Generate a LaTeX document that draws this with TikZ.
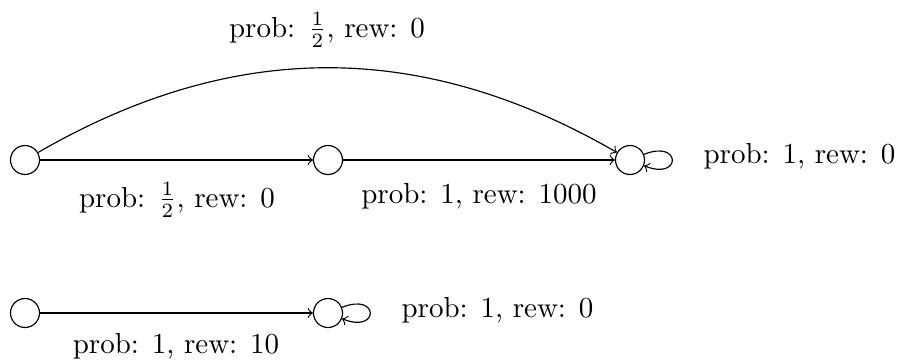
\documentclass[tikz,border=0pt]{standalone}
\begin{document}
\begin{tikzpicture}[x=0.345pt,y=-0.345pt,
  state/.style={circle,draw,minimum size=10pt,inner sep=0pt},
  lbl/.style={anchor=base,inner sep=0pt},
  trans/.style={->},
  selfloop/.style={loop,out=22,in=-22,min distance=14pt,looseness=8}]
\useasboundingbox (0,0) rectangle (899,363);
\node[state] (a) at (25,160) {};
\node[state] (b) at (328,160) {};
\node[state] (c) at (630,160) {};
\node[state] (d) at (25,313) {};
\node[state] (e) at (328,313) {};
\draw[trans] (a) -- (b);
\draw[trans] (b) -- (c);
\draw[trans] (a) to[bend left=30] (c);
\draw[trans] (c) to[selfloop] (c);
\draw[trans] (d) -- (e);
\draw[trans] (e) to[selfloop] (e);
\node[lbl] (l1) at (327,37) {prob: $\frac{1}{2}$, rew: 0};
\node[lbl] (l2) at (177,207) {prob: $\frac{1}{2}$, rew: 0};
\node[lbl] (l3) at (479,203) {prob: 1, rew: 1000};
\node[lbl,anchor=base west] (l4) at (703,163) {prob: 1, rew: 0};
\node[lbl] (l5) at (176,353) {prob: 1, rew: 10};
\node[lbl,anchor=base west] (l6) at (401,317) {prob: 1, rew: 0};
\end{tikzpicture}
\end{document}
